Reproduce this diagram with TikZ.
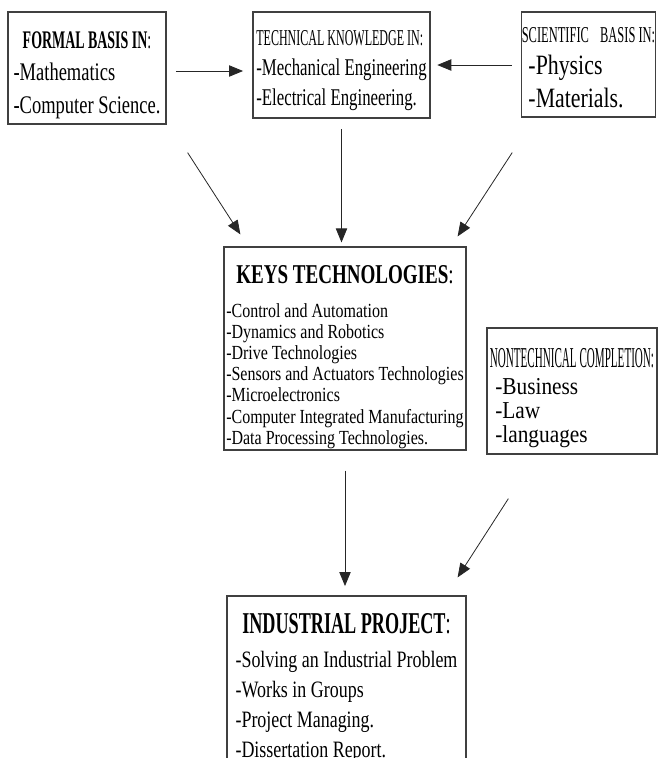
\documentclass[tikz,border=0pt]{standalone}
\usepackage{fontspec}
\setmainfont{Liberation Serif}
\usetikzlibrary{arrows.meta}
\newcommand\squeeze[1]{\addfontfeatures{FakeStretch=#1}}
\tikzset{
  box/.style={draw=black!75, line width=0.9pt, inner sep=0pt, anchor=base},
  arr/.style={-{Triangle[length=10.5pt,width=8.5pt]}, line width=0.6pt, black!85}
}

\begin{document}
\begin{tikzpicture}[x=0.75pt, y=-0.75pt]
\useasboundingbox (0,0) rectangle (658,758);
% top row
\node[box, minimum width=118.5pt, text height=27pt, text depth=57pt] (formal) at (87,48)
{\fontsize{19}{24.4}\selectfont\squeeze{0.73}%
\begin{tabular}[t]{@{}l@{}}
\multicolumn{1}{@{}c@{}}{{\bfseries\squeeze{0.55}FORMAL BASIS IN}\squeeze{0.55}:}\\
-Mathematics\\
-Computer Science.
\end{tabular}};
\node[box, minimum width=132.75pt, text height=24.75pt, text depth=54.75pt] (tech) at (341.5,45)
{\fontsize{18}{22.5}\selectfont\squeeze{0.70}%
\begin{tabular}[t]{@{}l@{}}
{\fontsize{17}{17}\selectfont\squeeze{0.53}TECHNICAL KNOWLEDGE IN:}\\
-Mechanical Engineering\\
-Electrical Engineering.
\end{tabular}};
\node[box, minimum width=99.75pt, text height=22.5pt, text depth=56.25pt] (sci) at (588.5,42)
{\fontsize{21}{24.4}\selectfont\squeeze{0.78}%
\begin{tabular}[t]{@{}l@{}}
{\fontsize{17}{17}\selectfont\squeeze{0.55}SCIENTIFIC\hspace{6pt} BASIS IN:}\\
\hspace{5pt}-Physics\\
\hspace{5pt}-Materials.
\end{tabular}};
% middle
\node[box, minimum width=181.5pt, text height=27pt, text depth=125.25pt] (keys) at (345,283)
{\fontsize{15}{15.9}\selectfont\squeeze{0.80}%
\begin{tabular}[t]{@{}l@{}}
\multicolumn{1}{@{}c@{}}{\fontsize{20.4}{20}\selectfont{\bfseries\squeeze{0.7}KEYS TECHNOLOGIES}\squeeze{0.7}:}\\[9.6pt]
-Control and Automation\\
-Dynamics and Robotics\\
-Drive Technologies\\
-Sensors and Actuators Technologies\\
-Microelectronics\\
-Computer Integrated Manufacturing\\
-Data Processing Technologies.
\end{tabular}};
\node[box, minimum width=127.5pt, text height=29.25pt, text depth=65.25pt] (nontech) at (572,367)
{\fontsize{18.2}{18}\selectfont\squeeze{0.88}%
\begin{tabular}[t]{@{}l@{}}
{\fontsize{21.6}{20}\selectfont\squeeze{0.385}NONTECHNICAL COMPLETION:}\\[2.25pt]
\hspace{4pt}-Business\\
\hspace{4pt}-Law\\
\hspace{4pt}-languages
\end{tabular}};
% bottom
\node[box, minimum width=179.25pt, text height=27.75pt, text depth=117.75pt] (indus) at (346.5,633)
{\fontsize{17.6}{22.5}\selectfont\squeeze{0.765}%
\begin{tabular}[t]{@{}l@{}}
\multicolumn{1}{@{}c@{}}{\fontsize{22.7}{22}\selectfont{\bfseries\squeeze{0.6}INDUSTRIAL PROJECT}\squeeze{0.6}:}\\[3pt]
-Solving an Industrial Problem\\
-Works in Groups\\
-Project Managing.\\
-Dissertation Report.
\end{tabular}};
% arrows
\draw[arr, shorten <=7pt, shorten >=7pt] (formal.east |- 0,71) -- (tech.west |- 0,71);
\draw[arr, shorten <=7pt, shorten >=5pt] (sci.west |- 0,65) -- (tech.east |- 0,65);
\draw[arr] ([shift={(21,28)}]formal.south east) -- ([shift={(17,-12)}]keys.north west);
\draw[arr, shorten <=8pt, shorten >=3pt] (tech.south) -- (tech.south |- keys.north);
\draw[arr] ([shift={(-9,35)}]sci.south west) -- ([shift={(-9,-10)}]keys.north east);
\draw[arr, shorten <=15pt, shorten >=7pt] (keys.south) -- (keys.south |- indus.north);
\draw[arr] ([shift={(22,44)}]nontech.south west) -- ([shift={(-9,-18)}]indus.north east);
\end{tikzpicture}
\end{document}
